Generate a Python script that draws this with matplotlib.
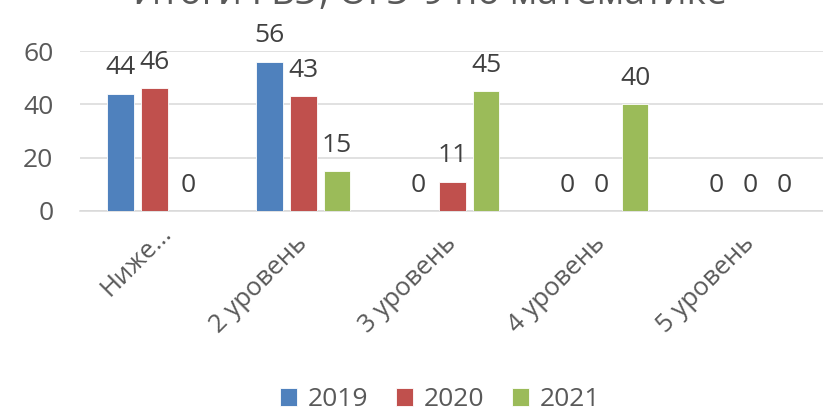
import numpy as np
import matplotlib
matplotlib.use("Agg")
import matplotlib.pyplot as plt
import matplotlib.transforms as mtransforms

plt.rcParams['font.family'] = ['Open Sans', 'DejaVu Sans']

# Data
categories = ['Ниже...', '2 уровень', '3 уровень', '4 уровень', '5 уровень']
years = ['2019', '2020', '2021']
values_2019 = [44, 56, 0, 0, 0]
values_2020 = [46, 43, 11, 0, 0]
values_2021 = [0, 15, 45, 40, 0]
title = 'Итоги ГВЭ, ОГЭ-9 по математике'

series = [values_2019, values_2020, values_2021]
colors = ['#4f81bd', '#c0504d', '#9bbb59']

fig = plt.figure(figsize=(8.23, 4.12), dpi=100)
ax = fig.add_axes([0.097, 0.4879, 0.905, 0.3883])

x = np.arange(len(categories))
width = 0.18
step = 0.227

for i, (vals, col, yr) in enumerate(zip(series, colors, years)):
    pos = x + (i - 1) * step
    ax.bar(pos, vals, width, color=col, edgecolor='white', linewidth=0.6, label=yr, zorder=3)
    for px, v in zip(pos, vals):
        ax.annotate(str(v), (px, v), xytext=(0, 14), textcoords='offset points',
                    ha='center', va='baseline', fontsize=19, color='#404040')

ax.set_xlim(-0.5, len(categories) - 0.5)
ax.set_ylim(0, 60)
ax.set_yticks([0, 20, 40, 60])
ax.yaxis.grid(True, color='#d9d9d9', linewidth=1.1, zorder=0)
for s in ['top', 'right', 'left']:
    ax.spines[s].set_visible(False)
ax.spines['bottom'].set_color('#d9d9d9')
ax.spines['bottom'].set_linewidth(1.1)
ax.tick_params(axis='y', length=0, pad=19, labelsize=19, labelcolor='#595959')
ax.tick_params(axis='x', length=0, pad=21, labelsize=18.5, labelcolor='#595959')

ax.set_xticks(x)
ax.set_xticklabels(categories, rotation=45, ha='right', va='center', rotation_mode='anchor')
first = ax.get_xticklabels()[0]
first.set_transform(first.get_transform() + mtransforms.ScaledTranslation(14 / 100, 11 / 100, fig.dpi_scale_trans))

# title sits mostly above the top edge, as in the source image
fig.text(0.523, 0.99, title, ha='center', va='baseline', fontsize=27, color='#595959')

fig.legend(loc='center', bbox_to_anchor=(0.535, 0.03), ncol=3, frameon=False,
           fontsize=19, handlelength=0.65, handleheight=0.65, handletextpad=0.4,
           columnspacing=1.05, labelcolor='#595959')

fig.savefig('out.png', dpi=100)
